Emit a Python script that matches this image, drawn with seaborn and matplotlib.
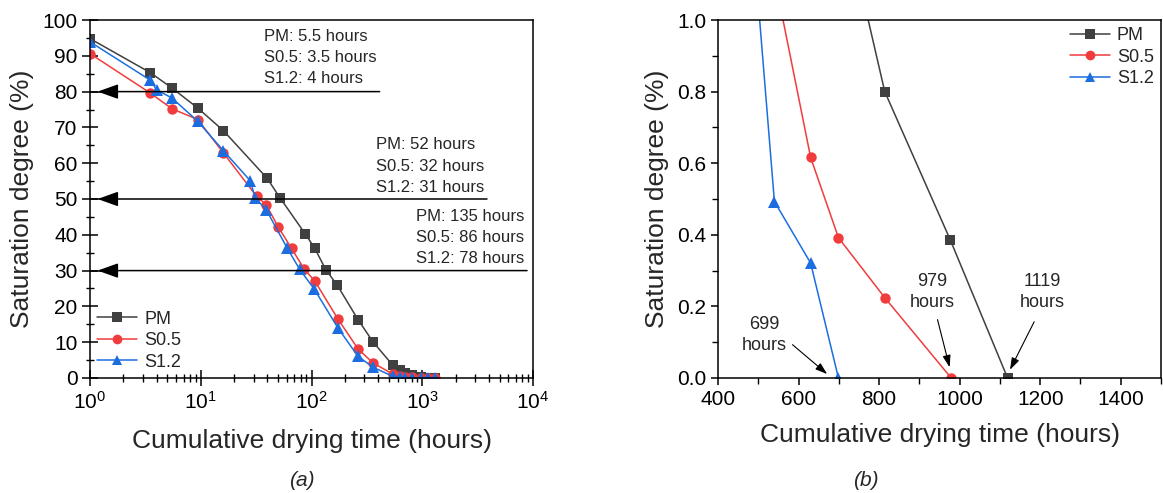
import numpy as np
import pandas as pd
import seaborn as sns
import matplotlib.pyplot as plt
from matplotlib.ticker import MultipleLocator, LogLocator

# drying curves (hours, saturation %)
pm_time = [1, 3.5, 5.5, 9.4, 16, 39.7, 52, 88, 107, 135, 171, 263, 359, 540, 630, 699, 814, 977, 1119, 1300]
pm_sat = [94.8, 85.3, 81.0, 75.4, 69.1, 55.8, 50.3, 40.2, 36.2, 30.2, 25.9, 16.3, 10.1, 3.6, 2.2, 1.36, 0.80, 0.385, 0, 0]

s05_time = [1, 3.5, 5.5, 9.4, 16, 32, 39, 50, 66, 86, 107, 173, 262, 359, 540, 630, 699, 815, 979, 1119, 1300]
s05_sat = [90.6, 79.6, 75.2, 72.2, 62.9, 50.7, 48.4, 42.2, 36.2, 30.4, 27.1, 16.5, 8.2, 4.2, 1.12, 0.616, 0.392, 0.223, 0, 0, 0]

s12_time = [1, 3.5, 4, 5.5, 9.4, 16, 28, 31, 39, 60, 78, 106, 173, 262, 359, 540, 630, 699, 815, 979, 1119, 1300]
s12_sat = [93.9, 83.2, 80.5, 78.2, 71.7, 63.5, 55.1, 50.3, 47.0, 36.4, 30.4, 24.8, 14.0, 6.1, 3.0, 0.493, 0.321, 0, 0, 0, 0, 0]

series = ["PM", "S0.5", "S1.2"]
levels = [80, 50, 30]
level_text = [
    ["PM: 5.5 hours", "S0.5: 3.5 hours", "S1.2: 4 hours"],
    ["PM: 52 hours", "S0.5: 32 hours", "S1.2: 31 hours"],
    ["PM: 135 hours", "S0.5: 86 hours", "S1.2: 78 hours"],
]
end_hours = [699, 979, 1119]


def build_frame(times, sats, cut_at_zero=False):
    frames = []
    for name, t, s in zip(series, times, sats):
        d = pd.DataFrame({"time": t, "sat": s, "series": name})
        if cut_at_zero:
            first_zero = int(np.argmax(np.array(s) == 0))
            d = d.iloc[:first_zero + 1]
        frames.append(d)
    return pd.concat(frames, ignore_index=True)


times = [pm_time, s05_time, s12_time]
sats = [pm_sat, s05_sat, s12_sat]
data = build_frame(times, sats)
data_zoom = build_frame(times, sats, cut_at_zero=True)

palette = {"PM": "#404040", "S0.5": "#f03c3c", "S1.2": "#1c6ee0"}
markers = {"PM": "s", "S0.5": "o", "S1.2": "^"}

sns.set_theme(style="ticks", rc={"axes.edgecolor": "black", "axes.linewidth": 1.1,
                                 "xtick.color": "black", "ytick.color": "black"})
plt.rcParams["font.family"] = ["Liberation Sans", "DejaVu Sans"]
plt.rcParams["mathtext.fontset"] = "custom"
plt.rcParams["mathtext.rm"] = "Liberation Sans"

fig, (ax1, ax2) = plt.subplots(1, 2, figsize=(11.63, 4.93), dpi=100)
fig.subplots_adjust(left=0.0774, right=0.9983, bottom=0.2333, top=0.9594, wspace=0.4176)


def draw(ax, d):
    sns.lineplot(data=d, x="time", y="sat", hue="series", style="series", palette=palette,
                 markers=markers, dashes=False, estimator=None, sort=False, ax=ax,
                 markersize=7, markeredgewidth=0, linewidth=1.1)
    for ln in ax.lines:
        if ln.get_marker() == "^":
            ln.set_markersize(8.5)
        elif ln.get_marker() == "o":
            ln.set_markersize(7.5)


# (a) full drying curve, log time
draw(ax1, data)
ax1.set_xscale("log")
ax1.set_xlim(1, 1e4)
ax1.set_ylim(0, 100)
ax1.yaxis.set_major_locator(MultipleLocator(10))
ax1.yaxis.set_minor_locator(MultipleLocator(5))
ax1.xaxis.set_major_locator(LogLocator(base=10, numticks=10))
ax1.xaxis.set_minor_locator(LogLocator(base=10, subs=np.arange(2, 10), numticks=20))
ax1.tick_params(which="major", direction="inout", length=11, width=1.1, labelsize=15)
ax1.tick_params(which="minor", direction="inout", length=6, width=1.0)
ax1.set_xlabel("Cumulative drying time (hours)", fontsize=19, labelpad=12)
ax1.set_ylabel("Saturation degree (%)", fontsize=19, labelpad=6)

line_ends = [412, 3840, 8830]
text_x = [37, 379, 873]
text_top = [95.4, 65.1, 45.2]
for lev, xe, tx, ty, lines in zip(levels, line_ends, text_x, text_top, level_text):
    ax1.plot([1, 1.25], [lev, lev], color="black", lw=1.1)
    ax1.annotate("", xy=(1.17, lev), xytext=(xe, lev),
                 arrowprops=dict(arrowstyle="-|>,head_length=0.7,head_width=0.25",
                                 mutation_scale=18, color="black", lw=1.1,
                                 shrinkA=0, shrinkB=0))
    for i, s in enumerate(lines):
        ax1.text(tx, ty - i * 5.9, s, fontsize=12, va="center", ha="left")

sns.move_legend(ax1, "lower left", frameon=False, fontsize=13, title=None,
                handlelength=2.2, handletextpad=0.4, labelspacing=0.25,
                borderaxespad=0.2, borderpad=0.2)

# (b) end of drying, linear time
draw(ax2, data_zoom)
ax2.set_xlim(400, 1500)
ax2.set_ylim(0, 1.0)
ax2.xaxis.set_major_locator(MultipleLocator(200))
ax2.xaxis.set_minor_locator(MultipleLocator(100))
ax2.yaxis.set_major_locator(MultipleLocator(0.2))
ax2.yaxis.set_minor_locator(MultipleLocator(0.1))
ax2.yaxis.set_major_formatter(plt.FormatStrFormatter("%.1f"))
ax2.tick_params(which="major", direction="out", length=5, width=1.1, labelsize=15)
ax2.tick_params(which="minor", direction="out", length=4, width=1.0)
ax2.set_xlabel("Cumulative drying time (hours)", fontsize=19, labelpad=10)
ax2.set_ylabel("Saturation degree (%)", fontsize=19, labelpad=6)

ann_text_pos = [(516, 0.12), (932, 0.24), (1205, 0.24)]
ann_arrow_start = [(585, 0.093), (945, 0.163), (1185, 0.157)]
ann_tip = [(671, 0.011), (975, 0.03), (1125, 0.023)]
for h, tp, st, tip in zip(end_hours, ann_text_pos, ann_arrow_start, ann_tip):
    ax2.text(tp[0], tp[1], f"{h}\nhours", fontsize=13, ha="center", va="center", linespacing=1.35)
    ax2.annotate("", xy=tip, xytext=st,
                 arrowprops=dict(arrowstyle="-|>,head_length=0.6,head_width=0.2",
                                 mutation_scale=12, color="black", lw=0.8,
                                 shrinkA=0, shrinkB=0))

sns.move_legend(ax2, "upper right", frameon=False, fontsize=13, title=None,
                handlelength=2.2, handletextpad=0.4, labelspacing=0.25,
                borderaxespad=0.2, borderpad=0.2)

fig.text(302 / 1163, 1 - 481 / 493, "(a)", style="italic", fontsize=15, ha="center", va="center")
fig.text(866 / 1163, 1 - 481 / 493, "(b)", style="italic", fontsize=15, ha="center", va="center")

fig.savefig("out.png", dpi=100)
